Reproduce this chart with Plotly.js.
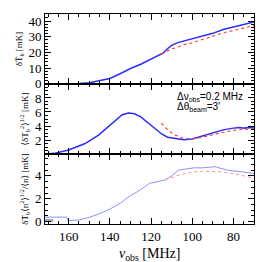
<!DOCTYPE html>
<html><head><meta charset="utf-8">
<script src="https://cdn.plot.ly/plotly-3.0.1.min.js"></script>
<style>html,body{margin:0;padding:0;background:#fff}#c{width:258px;height:262px}</style>
</head><body><div id="c"></div>
<script>
// Top panel: mean brightness temperature
const topFreqBlue = [171.5,165,160,155,150,145,140,135,130,125,120,116,114,112,110,107,104,100,95,90,85,80,75,70];
const topBlue     = [0,0,0,0.2,0.7,2,3.5,6.5,9.8,12.5,15.7,18.4,19.8,22.4,24.5,26.3,27.3,28.6,30.2,32.2,34.6,36.3,37.8,39.5];
const topFreqRed  = [115,114,112,110,107,104,100,95,90,85,80,75,70];
const topRed      = [19.2,19.6,21,22.3,23.4,25,26.2,28.2,30,32.5,34,35.6,37.1];
// Middle panel: rms fluctuation
const midFreqBlue = [171.5,167,160,155,152,145.5,139,134,131,128,125,122,120,117,115,112,108,104,100,95,90,85,80,77,75,72,70];
const midBlue     = [0,0.1,0.57,1.1,1.5,2.7,4.4,5.6,5.85,5.75,5.3,4.6,4.1,3.3,2.9,2.4,2.2,2.05,2.15,2.55,3.0,3.45,3.7,3.8,3.7,3.8,3.7];
const midFreqRed  = [115,112,109,105,102,97,93,89,85,79,75,71,70];
const midRed      = [4.4,3.5,2.8,2.3,2.15,2.3,2.55,2.85,3.1,3.43,3.5,3.6,3.6];
// Bottom panel
const botFreqBlue = [171.5,161,160.5,157,155,150,145,140,135,131,125,120.7,116,113,110,106.6,103,99,95,89,86,83,76,71,70];
const botBlue     = [0.4,0.4,0.1,0.1,0.15,0.38,0.7,1.1,1.6,2.15,2.8,3.35,3.55,3.65,4.0,4.5,4.6,4.7,4.7,4.8,4.65,4.5,4.35,4.25,4.2];
const botFreqRed  = [113,110,106,102,99,95,90,85,80,75,71,70];
const botRed      = [3.65,3.85,4.1,4.25,4.35,4.4,4.4,4.35,4.2,4.0,3.85,3.8];
const botFreqGray = [171.5,167.5];
const botGray     = [0.1,0.1];

const xTickVals = [160,140,120,100,80];
const topTicks = [0,10,20,30,40];
const midTicks = [0,2,4,6,8,10];
const midTickText = ['','2','4','6','8',''];
const botTicks = [0,2,4];

const BLUE='#2b2bff', RED='#ff3030', LBLUE='#8f8fff', LRED='#ff9090';
const traces = [
 {x:topFreqBlue,y:topBlue,xaxis:'x',yaxis:'y',mode:'lines',line:{color:BLUE,width:1.5}},
 {x:topFreqRed,y:topRed,xaxis:'x',yaxis:'y',mode:'lines',line:{color:RED,width:1.1,dash:'dot'}},
 {x:midFreqBlue,y:midBlue,xaxis:'x2',yaxis:'y2',mode:'lines',line:{color:BLUE,width:1.5}},
 {x:midFreqRed,y:midRed,xaxis:'x2',yaxis:'y2',mode:'lines',line:{color:RED,width:1.1,dash:'dot'}},
 {x:botFreqGray,y:botGray,xaxis:'x3',yaxis:'y3',mode:'lines',line:{color:'#aaaaaa',width:3}},
 {x:botFreqBlue,y:botBlue,xaxis:'x3',yaxis:'y3',mode:'lines',line:{color:LBLUE,width:1}},
 {x:botFreqRed,y:botRed,xaxis:'x3',yaxis:'y3',mode:'lines',line:{color:LRED,width:1,dash:'dot'}}
];
const serif = 'Liberation Serif, DejaVu Serif, serif';
function xax(anchor, labels){
  return {domain:[0,1],anchor:anchor,range:[171.5,70],tickmode:'array',tickvals:xTickVals,
    showticklabels:labels,ticks:'inside',ticklen:6,tickwidth:1,tickcolor:'#000',mirror:'allticks',
    showline:true,linecolor:'#000',linewidth:1,showgrid:false,zeroline:false,
    minor:{dtick:5,tick0:0,ticks:'inside',ticklen:3,tickcolor:'#000',showgrid:false},
    tickfont:{family:serif,size:13,color:'#000'}};
}
function yax(anchor, dom, range, tv, tt, minor, title){
  const a = {domain:dom,anchor:anchor,range:range,tickmode:'array',tickvals:tv,
    ticks:'inside',ticklen:6,tickwidth:1,tickcolor:'#000',mirror:'allticks',
    showline:true,linecolor:'#000',linewidth:1,showgrid:false,zeroline:false,
    minor:{dtick:minor,tick0:0,ticks:'inside',ticklen:3,tickcolor:'#000',showgrid:false},
    tickfont:{family:serif,size:13,color:'#000'},
    title:{text:title,font:{family:serif,size:9,color:'#000'},standoff:4}};
  if (tt) a.ticktext = tt;
  return a;
}
const layout = {
  width:258,height:262,margin:{l:45,r:4,t:14,b:38},showlegend:false,
  paper_bgcolor:'#fff',plot_bgcolor:'#fff',
  xaxis: xax('y',false), xaxis2: xax('y2',false), xaxis3: xax('y3',true),
  yaxis: yax('x',[0.667,1],[0,44.5],topTicks,null,2,'δT̄<sub>b</sub> [mK]'),
  yaxis2: yax('x2',[0.333,0.667],[0,10],midTicks,midTickText,0.5,'⟨δT<sub>b</sub><sup>2</sup>⟩<sup>1/2</sup> [mK]'),
  yaxis3: yax('x3',[0,0.333],[-0.2,5.9],botTicks,null,0.5,'δT̄<sub>b</sub>⟨n<sup>2</sup>⟩<sup>1/2</sup>/⟨n⟩ [mK]'),
  annotations:[
   {xref:'paper',yref:'paper',x:0.62,y:0.605,xanchor:'left',yanchor:'middle',showarrow:false,
    text:'Δν<sub>obs</sub>=0.2 MHz',font:{family:'Liberation Sans, DejaVu Sans, sans-serif',size:10,color:'#000'}},
   {xref:'paper',yref:'paper',x:0.62,y:0.555,xanchor:'left',yanchor:'middle',showarrow:false,
    text:'Δθ<sub>beam</sub>=3\'',font:{family:'Liberation Sans, DejaVu Sans, sans-serif',size:10,color:'#000'}},
   {xref:'paper',yref:'paper',x:0.5,y:-0.145,xanchor:'center',yanchor:'middle',showarrow:false,
    text:'<i>ν</i><sub>obs</sub> [MHz]',font:{family:serif,size:14,color:'#000'}}
  ]
};
Plotly.newPlot('c',traces,layout,{displayModeBar:false,staticPlot:true});
</script></body></html>
